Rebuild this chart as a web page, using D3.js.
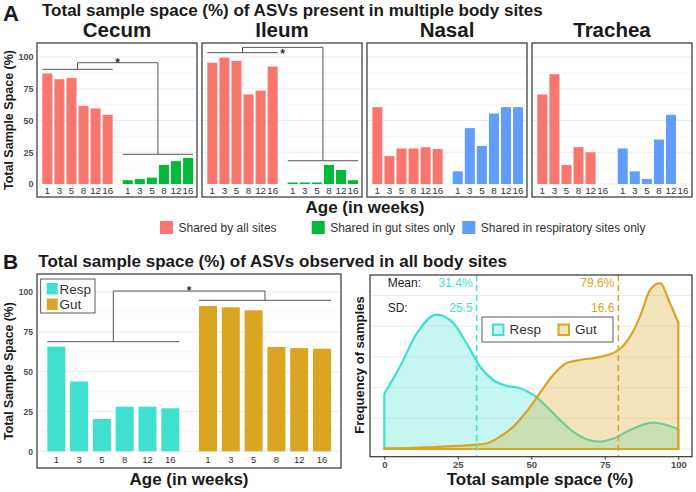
<!DOCTYPE html>
<html>
<head>
<meta charset="utf-8">
<script src="https://cdn.jsdelivr.net/npm/d3@7"></script>
<style>
body { margin: 0; background: #fff; }
text { font-family: "Liberation Sans", Arial, sans-serif; }
</style>
</head>
<body>
<div id="chart"></div>
<script>
// ---- data ----
var ages = ["1", "3", "5", "8", "12", "16"];
var pctTicks = [0, 25, 50, 75, 100];
var pctMinor = [12.5, 37.5, 62.5, 87.5];

var sites = ["Cecum", "Ileum", "Nasal", "Trachea"];
// shared by all sites, per site
var cecumAll   = [87, 82.5, 83.5, 61.5, 59.5, 54.5];
var ileumAll   = [95.5, 99.5, 97, 70.5, 73.5, 92.5];
var nasalAll   = [60.5, 22, 28, 28, 29, 27.5];
var tracheaAll = [70.5, 86.5, 15, 29, 25, null];
// shared only in gut (cecum/ileum) or respiratory (nasal/trachea) sites
var cecumGut    = [3, 4, 5, 15, 18, 20.5];
var ileumGut    = [1.2, 1.2, 1.2, 15, 11, 3];
var nasalResp   = [10, 44, 30, 55.5, 60.5, 60.5];
var tracheaResp = [28, 10, 4, 35, 54.5, null];

var groupNames = ["Shared by all sites", "Shared in gut sites only", "Shared in respiratory sites only"];
var groupColors = ["#F8766D", "#00BA38", "#619CFF"];

// panel B
var respSpace = [65.7, 43.8, 20.3, 28, 28, 27];
var gutSpace  = [91.2, 90.4, 88.5, 65.5, 64.8, 64.4];

// density of sample space (x in %, density)
var respDensX = [0, 5.3, 11, 17.8, 23.5, 28, 32.6, 37.1, 41.6, 46.2, 50.7, 55.2, 59.8, 64.3, 68.8, 73.4, 77.9, 83.6, 91.5, 96.1, 100];
var respDensY = [0.0090, 0.0134, 0.0188, 0.0219, 0.0205, 0.0172, 0.0134, 0.0112, 0.0103, 0.0099, 0.0088, 0.0069, 0.0047, 0.0028, 0.0016, 0.0012, 0.0017, 0.0031, 0.0043, 0.0039, 0.0032];
var gutDensX = [0, 10, 20, 31.4, 34.8, 39.3, 43.8, 48.4, 52.9, 57.5, 62, 66.6, 73.4, 79.6, 83.6, 87, 90.4, 93.8, 97.2, 100];
var gutDensY = [0.0001, 0.0002, 0.0004, 0.0007, 0.0009, 0.0020, 0.0036, 0.0061, 0.0091, 0.0121, 0.0140, 0.0145, 0.0150, 0.0161, 0.0183, 0.0216, 0.0259, 0.0270, 0.0237, 0.0206];
var densTicks = [0, 0.005, 0.01, 0.015, 0.02, 0.025];
var densXTicks = [0, 25, 50, 75, 100];

var respMean = 31.4, gutMean = 79.6, respSD = 25.5, gutSD = 16.6;
var respColor = "#40E0D0", gutColor = "#DAA520";

// significance brackets (value levels: left group, right group, top, star)
var sigCecum = [90.3, 23.4, 95.5, 98];
var sigIleum = [103.4, 18.3, 107.6, 104.7];
var sigB     = [68.8, 94.8, 100.6, 102.2];

// ---- svg ----
var svg = d3.select("#chart").append("svg")
    .attr("width", 696)
    .attr("height", 492);

svg.append("rect").attr("width", 696).attr("height", 492).attr("fill", "#fff");

function grid(g, y, x0, x1, major, minor) {
  g.selectAll("line.minor").data(minor).enter().append("line")
    .attr("x1", x0).attr("x2", x1)
    .attr("y1", d => y(d)).attr("y2", d => y(d))
    .attr("stroke", "#F2F2F2").attr("stroke-width", 0.6);
  g.selectAll("line.major").data(major).enter().append("line")
    .attr("x1", x0).attr("x2", x1)
    .attr("y1", d => y(d)).attr("y2", d => y(d))
    .attr("stroke", "#EBEBEB").attr("stroke-width", 0.9);
}

function bracket(g, xa, xb, y, lev) {
  // xa, xb: band scales of left/right groups
  var ca = xa.range()[0] + (xa.range()[1] - xa.range()[0]) / 2;
  var cb = xb.range()[0] + (xb.range()[1] - xb.range()[0]) / 2;
  var a0 = xa(ages[0]), a1 = xa(ages[5]) + xa.bandwidth();
  var b0 = xb(ages[0]), b1 = xb(ages[5]) + xb.bandwidth();
  var p = "M" + a0 + "," + y(lev[0]) + "H" + a1 +
          "M" + ca + "," + y(lev[0]) + "V" + y(lev[2]) + "H" + cb + "V" + y(lev[1]) +
          "M" + b0 + "," + y(lev[1]) + "H" + b1;
  g.append("path").attr("d", p).attr("fill", "none")
    .attr("stroke", "#555").attr("stroke-width", 1);
  g.append("text").attr("x", (ca + cb) / 2).attr("y", y(lev[3]) + 7)
    .attr("text-anchor", "middle").attr("font-size", "12px").attr("font-weight", "bold")
    .attr("fill", "#333").text("*");
}

// ---- Panel A ----
svg.append("text").attr("x", 3).attr("y", 20.5).attr("font-size", "22px")
  .attr("font-weight", "bold").attr("fill", "#1a1a1a").text("A");
svg.append("text").attr("x", 42).attr("y", 15.5).attr("font-size", "17px")
  .attr("font-weight", "bold").attr("fill", "#1a1a1a")
  .text("Total sample space (%) of ASVs present in multiple body sites");

var facetLeft = [37, 202, 367, 532];
var facetW = 160, facetTop = 43, facetBottom = 197;
var yA = d3.scaleLinear().domain([0, 100]).range([184, 57]);
var allVals = [cecumAll, ileumAll, nasalAll, tracheaAll];
var onlyVals = [cecumGut, ileumGut, nasalResp, tracheaResp];
var onlyColor = [groupColors[1], groupColors[1], groupColors[2], groupColors[2]];

sites.forEach(function(site, i) {
  var L = facetLeft[i];
  var g = svg.append("g");

  grid(g, yA, L, L + facetW, pctTicks, pctMinor);

  var x1 = d3.scaleBand().domain(ages).range([L + 4.3, L + 76.7]).paddingInner(0.17).paddingOuter(0.085);
  var x2 = d3.scaleBand().domain(ages).range([L + 84.7, L + 157.1]).paddingInner(0.17).paddingOuter(0.085);

  var d1 = ages.map((a, k) => ({age: a, v: allVals[i][k]})).filter(d => d.v != null);
  var d2 = ages.map((a, k) => ({age: a, v: onlyVals[i][k]})).filter(d => d.v != null);

  g.selectAll("rect.all").data(d1).enter().append("rect")
    .attr("x", d => x1(d.age)).attr("width", x1.bandwidth())
    .attr("y", d => yA(d.v)).attr("height", d => yA(0) - yA(d.v))
    .attr("fill", groupColors[0]);
  g.selectAll("rect.only").data(d2).enter().append("rect")
    .attr("x", d => x2(d.age)).attr("width", x2.bandwidth())
    .attr("y", d => yA(d.v)).attr("height", d => yA(0) - yA(d.v))
    .attr("fill", onlyColor[i]);

  [x1, x2].forEach(function(xs) {
    g.append("g").attr("transform", "translate(0," + yA(0) + ")")
      .call(d3.axisBottom(xs).tickSize(0).tickPadding(3))
      .call(a => a.select(".domain").remove())
      .selectAll("text").attr("font-size", "9.8px").attr("fill", "#333")
      .attr("font-family", "Liberation Sans, Arial, sans-serif");
  });

  if (site === "Cecum") bracket(g, x1, x2, yA, sigCecum);
  if (site === "Ileum") bracket(g, x1, x2, yA, sigIleum);

  g.append("rect").attr("x", L).attr("y", facetTop).attr("width", facetW)
    .attr("height", facetBottom - facetTop).attr("fill", "none")
    .attr("stroke", "#333").attr("stroke-width", 1.2);

  g.append("text").attr("x", L + facetW / 2).attr("y", 37.3)
    .attr("text-anchor", "middle").attr("font-size", "20.5px").attr("font-weight", "bold")
    .attr("fill", "#1a1a1a").text(site);
});

svg.append("g").attr("transform", "translate(37,0)")
  .call(d3.axisLeft(yA).tickValues(pctTicks).tickSize(0).tickPadding(3.5))
  .call(a => a.select(".domain").remove())
  .selectAll("text").attr("font-size", "9px").attr("font-weight", "bold").attr("fill", "#4d4d4d")
  .attr("font-family", "Liberation Sans, Arial, sans-serif");

svg.append("text")
  .attr("transform", "translate(13,120) rotate(-90)")
  .attr("text-anchor", "middle").attr("font-size", "12.5px").attr("font-weight", "bold")
  .attr("fill", "#1a1a1a").text("Total Sample Space (%)");

svg.append("text").attr("x", 365).attr("y", 213).attr("text-anchor", "middle")
  .attr("font-size", "17px").attr("font-weight", "bold").attr("fill", "#1a1a1a")
  .text("Age (in weeks)");

// legend A
var legX = [160, 311.7, 462.3];
groupNames.forEach(function(name, k) {
  svg.append("rect").attr("x", legX[k]).attr("y", 221).attr("width", 13).attr("height", 13)
    .attr("fill", groupColors[k]);
  svg.append("text").attr("x", legX[k] + 18.5).attr("y", 232).attr("font-size", "12px")
    .attr("fill", "#333").text(name);
});

// ---- Panel B ----
svg.append("text").attr("x", 3).attr("y", 268.5).attr("font-size", "21px")
  .attr("font-weight", "bold").attr("fill", "#1a1a1a").text("B");
svg.append("text").attr("x", 38.3).attr("y", 266.5).attr("font-size", "17px")
  .attr("font-weight", "bold").attr("fill", "#1a1a1a")
  .text("Total sample space (%) of ASVs observed in all body sites");

// B left: bars
var bl = svg.append("g");
var yB = d3.scaleLinear().domain([0, 100]).range([451.3, 292]);
grid(bl, yB, 37, 341, pctTicks, pctMinor);

var xr = d3.scaleBand().domain(ages).range([44.9, 181.7]).paddingInner(0.21).paddingOuter(0.105);
var xg = d3.scaleBand().domain(ages).range([196.6, 333.4]).paddingInner(0.21).paddingOuter(0.105);

bl.selectAll("rect.resp").data(respSpace).enter().append("rect")
  .attr("x", (d, k) => xr(ages[k])).attr("width", xr.bandwidth())
  .attr("y", d => yB(d)).attr("height", d => yB(0) - yB(d))
  .attr("fill", respColor);
bl.selectAll("rect.gut").data(gutSpace).enter().append("rect")
  .attr("x", (d, k) => xg(ages[k])).attr("width", xg.bandwidth())
  .attr("y", d => yB(d)).attr("height", d => yB(0) - yB(d))
  .attr("fill", gutColor);

[xr, xg].forEach(function(xs) {
  bl.append("g").attr("transform", "translate(0," + yB(0) + ")")
    .call(d3.axisBottom(xs).tickSize(0).tickPadding(5))
    .call(a => a.select(".domain").remove())
    .selectAll("text").attr("font-size", "9.5px").attr("fill", "#333")
    .attr("font-family", "Liberation Sans, Arial, sans-serif");
});

bracket(bl, xr, xg, yB, sigB);

bl.append("g").attr("transform", "translate(37,0)")
  .call(d3.axisLeft(yB).tickValues(pctTicks).tickSize(0).tickPadding(4))
  .call(a => a.select(".domain").remove())
  .selectAll("text").attr("font-size", "8.5px").attr("font-weight", "bold").attr("fill", "#4d4d4d")
  .attr("font-family", "Liberation Sans, Arial, sans-serif");

bl.append("rect").attr("x", 37).attr("y", 274).attr("width", 304).attr("height", 194)
  .attr("fill", "none").attr("stroke", "#333").attr("stroke-width", 1.2);

// legend B left
var lb = bl.append("g");
lb.append("rect").attr("x", 40.7).attr("y", 279).attr("width", 54.3).attr("height", 34)
  .attr("fill", "#fff").attr("stroke", "#333").attr("stroke-width", 0.8);
[["Resp", respColor], ["Gut", gutColor]].forEach(function(d, k) {
  lb.append("rect").attr("x", 46.7).attr("y", 283 + k * 15.5).attr("width", 11).attr("height", 11.5)
    .attr("fill", d[1]);
  lb.append("text").attr("x", 59.5).attr("y", 294 + k * 14.5).attr("font-size", "13.5px")
    .attr("fill", "#333").text(d[0]);
});

svg.append("text")
  .attr("transform", "translate(12.7,371) rotate(-90)")
  .attr("text-anchor", "middle").attr("font-size", "12.3px").attr("font-weight", "bold")
  .attr("fill", "#1a1a1a").text("Total Sample Space (%)");
svg.append("text").attr("x", 189).attr("y", 485).attr("text-anchor", "middle")
  .attr("font-size", "17px").attr("font-weight", "bold").attr("fill", "#1a1a1a")
  .text("Age (in weeks)");

// B right: densities
var br = svg.append("g");
var xD = d3.scaleLinear().domain([0, 100]).range([384.3, 678.3]);
var yD = d3.scaleLinear().domain([0, 0.005]).range([449, 418.3]);
grid(br, yD, 370, 692, densTicks, []);

var area = d3.area()
  .x(d => xD(d[0])).y0(yD(0)).y1(d => yD(d[1]))
  .curve(d3.curveMonotoneX);
var respPts = respDensX.map((x, k) => [x, respDensY[k]]);
var gutPts = gutDensX.map((x, k) => [x, gutDensY[k]]);

br.append("path").datum(respPts).attr("d", area)
  .attr("fill", respColor).attr("fill-opacity", 0.3)
  .attr("stroke", respColor).attr("stroke-width", 2.2).attr("stroke-linejoin", "round");
br.append("path").datum(gutPts).attr("d", area)
  .attr("fill", gutColor).attr("fill-opacity", 0.3)
  .attr("stroke", gutColor).attr("stroke-width", 2.2).attr("stroke-linejoin", "round");

[[respMean, respColor], [gutMean, gutColor]].forEach(function(m) {
  br.append("line").attr("x1", xD(m[0])).attr("x2", xD(m[0]))
    .attr("y1", 275).attr("y2", 456.7)
    .attr("stroke", m[1]).attr("stroke-width", 1.5).attr("stroke-dasharray", "6,4");
});

br.append("text").attr("x", 387.7).attr("y", 286.7).attr("font-size", "12px").attr("fill", "#222").text("Mean:");
br.append("text").attr("x", 387.7).attr("y", 311.7).attr("font-size", "12px").attr("fill", "#222").text("SD:");
br.append("text").attr("x", xD(respMean) - 4).attr("y", 286.7).attr("text-anchor", "end")
  .attr("font-size", "12px").attr("fill", respColor).text(respMean + "%");
br.append("text").attr("x", xD(gutMean) - 4).attr("y", 286.7).attr("text-anchor", "end")
  .attr("font-size", "12px").attr("fill", gutColor).text(gutMean + "%");
br.append("text").attr("x", xD(respMean) - 4).attr("y", 311.7).attr("text-anchor", "end")
  .attr("font-size", "12px").attr("fill", respColor).text(respSD);
br.append("text").attr("x", xD(gutMean) - 4).attr("y", 311.7).attr("text-anchor", "end")
  .attr("font-size", "12px").attr("fill", gutColor).text(gutSD);

// legend B right
br.append("rect").attr("x", 482).attr("y", 317).attr("width", 131).attr("height", 25)
  .attr("fill", "#fff").attr("stroke", "#333").attr("stroke-width", 0.8);
[["Resp", respColor, 493], ["Gut", gutColor, 558.5]].forEach(function(d) {
  br.append("rect").attr("x", d[2]).attr("y", 324.5).attr("width", 10.5).attr("height", 10.5)
    .attr("fill", d[1]).attr("fill-opacity", 0.3).attr("stroke", d[1]).attr("stroke-width", 2);
  br.append("text").attr("x", d[2] + 16.5).attr("y", 334).attr("font-size", "13.5px")
    .attr("fill", "#333").text(d[0]);
});

br.append("g").attr("transform", "translate(0,456.7)")
  .call(d3.axisBottom(xD).tickValues(densXTicks).tickSize(3).tickPadding(2))
  .call(a => a.select(".domain").remove())
  .call(a => a.selectAll("line").attr("stroke", "#333"))
  .selectAll("text").attr("font-size", "9.5px").attr("font-weight", "bold").attr("fill", "#4d4d4d")
  .attr("font-family", "Liberation Sans, Arial, sans-serif");

br.append("rect").attr("x", 370).attr("y", 275).attr("width", 322).attr("height", 181.7)
  .attr("fill", "none").attr("stroke", "#333").attr("stroke-width", 1.2);

svg.append("text")
  .attr("transform", "translate(364,365) rotate(-90)")
  .attr("text-anchor", "middle").attr("font-size", "13px").attr("font-weight", "bold")
  .attr("fill", "#1a1a1a").text("Frequency of samples");
svg.append("text").attr("x", 540).attr("y", 485).attr("text-anchor", "middle")
  .attr("font-size", "17px").attr("font-weight", "bold").attr("fill", "#1a1a1a")
  .text("Total sample space (%)");
</script>
</body>
</html>
